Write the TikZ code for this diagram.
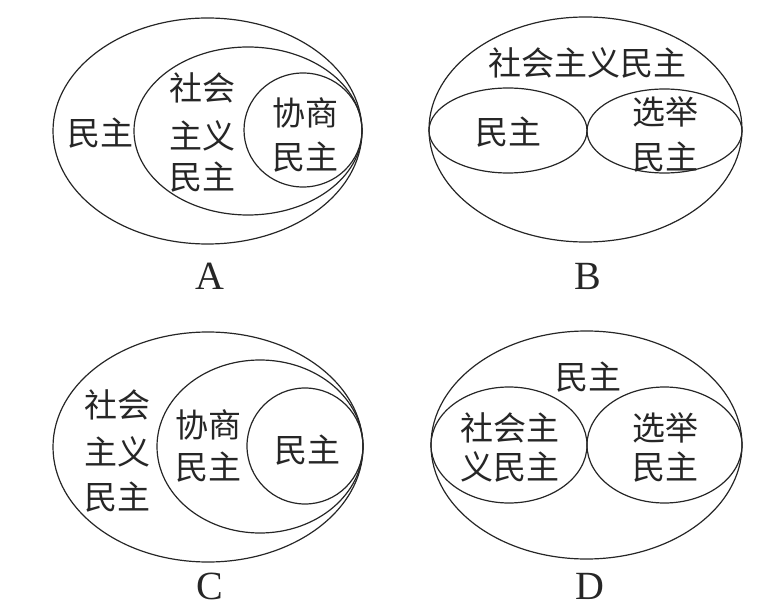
\documentclass[tikz,border=0pt]{standalone}
\usepackage{fontspec}
\newfontfamily\cjk{Noto Sans CJK SC}
\newfontfamily\lat{Liberation Serif}
\begin{document}
\begin{tikzpicture}[x=1pt,y=-1pt,
  ring/.style={line width=1.2pt,black!85},
  zh/.style={font=\cjk\fontsize{33}{33}\selectfont,inner sep=0pt,text=black!85},
  lab/.style={font=\lat\fontsize{40}{40}\selectfont,inner sep=0pt,text=black!85}]
\useasboundingbox (0,0) rectangle (762,609);
% A
\draw[ring] (207.5,131) ellipse [x radius=154.5,y radius=113];
\draw[ring] (248,131) ellipse [x radius=114,y radius=84];
\draw[ring] (303,130) ellipse [x radius=59,y radius=57];
\node[zh] (a1) at (100,133) {民主};
\node[zh] (a2) at (202,88) {社会};
\node[zh] (a3) at (202,136) {主义};
\node[zh] (a4) at (202,177) {民主};
\node[zh] (a5) at (305,113) {协商};
\node[zh] (a6) at (305,157) {民主};
\node[lab] (la) at (210,276) {A};
% B
\draw[ring] (585.5,129.5) ellipse [x radius=156.5,y radius=112.5];
\draw[ring] (508,130.5) ellipse [x radius=79,y radius=42.5];
\draw[ring] (664.5,131) ellipse [x radius=77.5,y radius=42];
\node[zh] (b1) at (587,63) {社会主义民主};
\node[zh] (b2) at (508,132) {民主};
\node[zh] (b3) at (665,112) {选举};
\node[zh] (b4) at (665,157) {民主};
\node[lab] (lb) at (588,276) {B};
% C
\draw[ring] (208,447) ellipse [x radius=155,y radius=115];
\draw[ring] (260,446.5) ellipse [x radius=103,y radius=86.5];
\draw[ring] (305,446) ellipse [x radius=58,y radius=58];
\node[zh] (c1) at (117,405) {社会};
\node[zh] (c2) at (117,452) {主义};
\node[zh] (c3) at (117,497) {民主};
\node[zh] (c4) at (208,425) {协商};
\node[zh] (c5) at (208,467) {民主};
\node[zh] (c6) at (307,450) {民主};
\node[lab] (lc) at (210,586) {C};
% D
\draw[ring] (586.5,445) ellipse [x radius=155.5,y radius=114];
\draw[ring] (509,445) ellipse [x radius=78,y radius=58];
\draw[ring] (664.5,445) ellipse [x radius=77.5,y radius=58];
\node[zh] (d1) at (588,377) {民主};
\node[zh] (d2) at (510,428) {社会主};
\node[zh] (d3) at (510,467) {义民主};
\node[zh] (d4) at (665,428) {选举};
\node[zh] (d5) at (665,467) {民主};
\node[lab] (ld) at (590,586) {D};
\end{tikzpicture}
\end{document}
